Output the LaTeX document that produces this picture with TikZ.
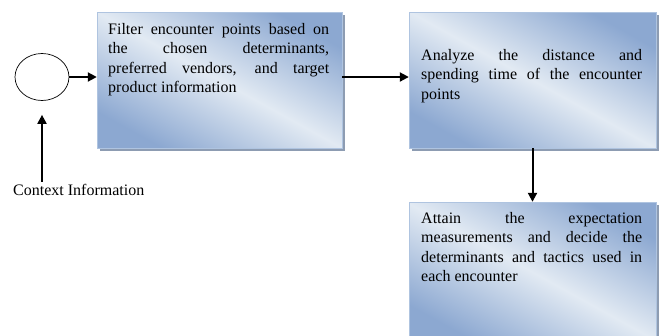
\documentclass[tikz,border=0pt]{standalone}
\usepackage{fontspec}
\setmainfont{Liberation Serif}
\usetikzlibrary{arrows.meta,shadings,shapes.geometric}
\definecolor{boxdark}{HTML}{8CA8D1}
\definecolor{boxlight}{HTML}{E2EAF3}
\definecolor{boxedge}{HTML}{AFC4E0}
\definecolor{boxshadow}{HTML}{8D9CB2}
\tikzset{
  flowbox/.style={draw=boxedge, line width=0.7pt,
    top color=boxdark, bottom color=boxdark, middle color=boxlight,
    shading angle=-29},
  shadowbox/.style={fill=boxshadow, draw=none},
  boxtext/.style={anchor=base west, inner sep=0pt, text width=221pt, align=justify,
    font=\fontsize{16}{19.5}\selectfont},
  arr/.style={line width=2pt, -{Triangle[length=9pt,width=9pt]}}
}
\begin{document}
\begin{tikzpicture}[x=1pt,y=-1pt]
  \useasboundingbox (0,0) rectangle (661,335);
  % drop shadows, then the three process boxes
  \fill[shadowbox] (99.5,15) rectangle (344.5,151);
  \fill[shadowbox] (411.5,15) rectangle (658.5,151);
  \fill[shadowbox] (411.5,205) rectangle (658.5,345);
  \path[flowbox] (97,12) rectangle (342,148);
  \path[flowbox] (409,12) rectangle (656,148);
  \path[flowbox] (409,202) rectangle (656,342);
  \node (b1) [inner sep=0pt, minimum width=245pt, minimum height=136pt] at (219.5,80) {};
  \node (b2) [inner sep=0pt, minimum width=247pt, minimum height=136pt] at (532.5,80) {};
  \node (b3) [inner sep=0pt, minimum width=247pt, minimum height=140pt] at (532.5,272) {};
  % box texts
  \node (t1) [boxtext] at (108,34) {\tolerance=10000 Filter encounter points based on\linebreak the chosen determinants,\linebreak preferred vendors, and target\linebreak product information};
  \node (t2) [boxtext] at (421,60) {\tolerance=10000 Analyze the distance and\linebreak spending time of the encounter\linebreak points};
  \node (t3) [boxtext] at (421,223) {\tolerance=10000 Attain the expectation\linebreak measurements and decide the\linebreak determinants and tactics used in\linebreak each encounter};
  % start circle and its input
  \node (c) [draw, ellipse, line width=0.7pt, minimum width=54pt, minimum height=47pt, inner sep=0pt] at (42,77) {};
  \node (ctx) [anchor=base west, inner sep=0pt, font=\fontsize{16}{19.5}\selectfont] at (13,195) {Context Information};
  % connectors
  \draw[arr] (c.east) -- (b1.west |- c.east);
  \draw[arr] (b1.east |- c.east) -- (b2.west |- c.east);
  \draw[arr] (b2.south) -- (b3.north);
  \draw[arr, shorten >=14pt] ([yshift=2pt]ctx.north -| c.south) -- (c.south);
\end{tikzpicture}
\end{document}
